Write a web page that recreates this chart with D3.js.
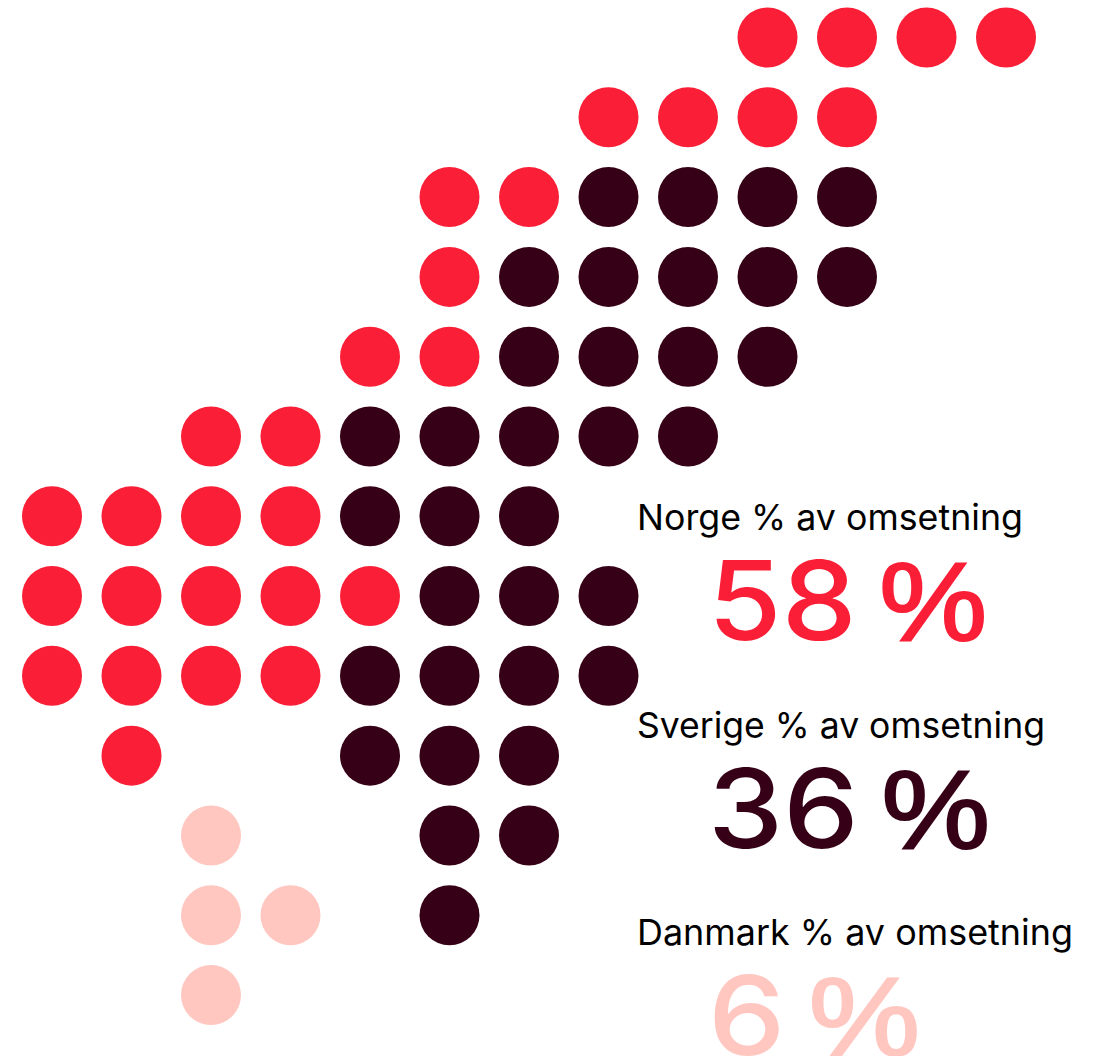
<!DOCTYPE html>
<html><head><meta charset="utf-8">
<script src="https://cdn.jsdelivr.net/npm/d3@7/dist/d3.min.js"></script>
<style>html,body{margin:0;padding:0;background:#fff}svg{display:block}</style>
</head><body><svg id="c" width="1100" height="1056"></svg>
<script>
// dots: [column, row] of the map grid
const norgeDots = [[9,0],[10,0],[11,0],[12,0],[7,1],[8,1],[9,1],[10,1],[5,2],[6,2],[5,3],[4,4],[5,4],[2,5],[3,5],
  [0,6],[1,6],[2,6],[3,6],[0,7],[1,7],[2,7],[3,7],[4,7],[0,8],[1,8],[2,8],[3,8],[1,9]];
const sverigeDots = [[7,2],[8,2],[9,2],[10,2],[6,3],[7,3],[8,3],[9,3],[10,3],[6,4],[7,4],[8,4],[9,4],
  [4,5],[5,5],[6,5],[7,5],[8,5],[4,6],[5,6],[6,6],[5,7],[6,7],[7,7],[4,8],[5,8],[6,8],[7,8],
  [4,9],[5,9],[6,9],[5,10],[6,10],[5,11]];
const danmarkDots = [[2,10],[2,11],[3,11],[2,12]];
const countries = ["Norge","Sverige","Danmark"];
const shares = [58,36,6];
const colors = ["#fa1e36","#360016","#ffc7c0"];
const labelSuffix = "% av omsetning";

const svg = d3.select("#c");
const x = d3.scaleLinear().domain([0,12]).range([52,1006]);
const y = d3.scaleLinear().domain([0,12]).range([37.5,995]);
const series = [norgeDots, sverigeDots, danmarkDots];
series.forEach((dots,i)=>{
  svg.append("g").selectAll("circle").data(dots).join("circle")
    .attr("cx",d=>x(d[0])).attr("cy",d=>y(d[1])).attr("r",30).attr("fill",colors[i]);
});
const font = "Inter, sans-serif";
const labelY = d3.scaleLinear().domain([0,2]).range([530,945]);
const valueY = d3.scaleLinear().domain([0,2]).range([640,1055]);
const labelFit = [386,408,436];
const valueFit = [279,282,212];
countries.forEach((c,i)=>{
  svg.append("text").attr("x",637).attr("y",labelY(i)).attr("font-family",font).attr("font-size",35.5)
    .attr("textLength",labelFit[i]).attr("lengthAdjust","spacingAndGlyphs")
    .attr("fill","#000").text(`${c} ${labelSuffix}`);
  const t = svg.append("text").attr("x",708).attr("y",valueY(i)).attr("font-family",font).attr("font-size",110).attr("font-weight",500)
    .attr("textLength",valueFit[i]).attr("lengthAdjust","spacingAndGlyphs")
    .attr("fill",colors[i]);
  t.append("tspan").text(shares[i]);
  t.append("tspan").attr("font-size",78).text(" ");
  t.append("tspan").attr("font-family","'Liberation Sans', sans-serif").attr("font-size",112)
    .attr("stroke",colors[i]).attr("stroke-width",2.2).text("%");
});
</script></body></html>
